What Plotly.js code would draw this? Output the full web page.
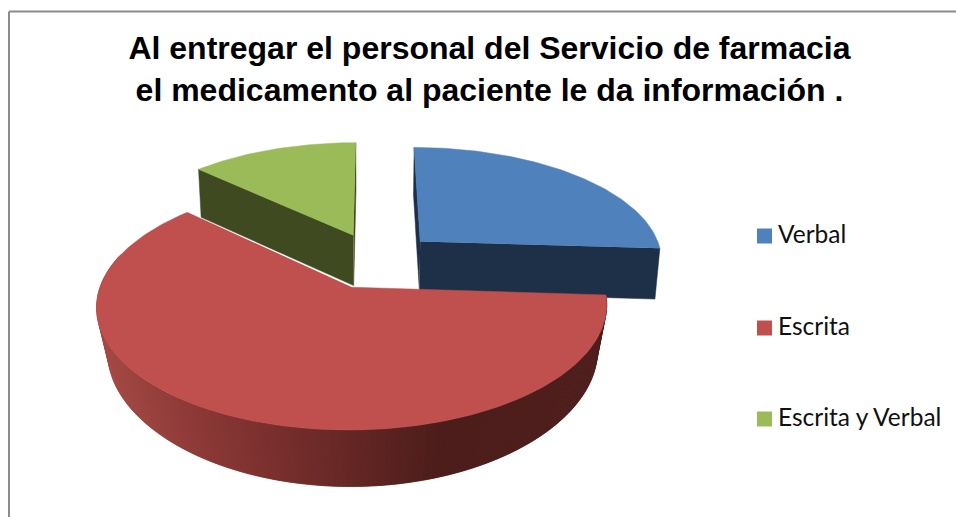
<!DOCTYPE html>
<html>
<head>
<meta charset="utf-8">
<script src="https://cdn.plot.ly/plotly-3.0.1.min.js"></script>
<style>html,body{margin:0;padding:0;background:#fff}</style>
</head>
<body>
<div id="chart" style="width:956px;height:517px"></div>
<script>
const categories = ["Verbal", "Escrita", "Escrita y Verbal"];
const shares = [26, 61, 13];
const topColors = ["#4f81bd", "#c0504d", "#9bbb59"];
const wallColors = ["#1d3048", "#4d1d1b", "#3f4a20"];
const titleText = "Al entregar el personal del Servicio de farmacia<br>el medicamento al paciente le da información .";

// red rim shading, left to right across the picture
const rimStopsX = [96, 200, 345, 445, 604];
const rimStopsRgb = [[165,74,69], [138,56,54], [103,39,37], [76,29,27], [79,31,30]];

// fake 3d camera, tuned by eye against the reference
const cam = {cx: 372, cy: 287, R: 252, a: 121, k: 0.152, h: 52};
const pull = 0.25;
const hub = [0.0205, 0.2274];

// where the hand made legend sits
const legendX = 764.5;
const legendTextX = 778;
const legendY = [237, 329, 420];

function project(X, Y, Z) {
    var s = 1 / (1 + cam.k * Y);
    var conv = Math.max(0.015, 0.034 - 0.05 * Y);
    return [
        cam.cx + cam.R * X * s * (1 - conv * Z),
        cam.cy - cam.a * Y * s + cam.h * Z * Math.sqrt(s)
    ];
}

function rimPoint(center, deg, Z) {
    var t = deg * Math.PI / 180;
    return project(center[0] + Math.sin(t), center[1] + Math.cos(t), Z);
}

function polyTrace(points, color) {
    return {
        x: points.map(p => p[0]),
        y: points.map(p => p[1]),
        type: "scatter",
        mode: "lines",
        fill: "toself",
        fillcolor: color,
        line: {color: color, width: 0.5},
        hoverinfo: "skip",
        showlegend: false
    };
}

function rimColor(x) {
    var i = 0;
    while (i < rimStopsX.length - 2 && x > rimStopsX[i + 1]) i++;
    var f = Math.min(1, Math.max(0, (x - rimStopsX[i]) / (rimStopsX[i + 1] - rimStopsX[i])));
    var c = rimStopsRgb[i].map((v, j) => Math.round(v + (rimStopsRgb[i + 1][j] - v) * f));
    return `rgb(${c[0]},${c[1]},${c[2]})`;
}

// work out each slice from its share
const total = shares.reduce((a, b) => a + b, 0);
var slices = [];
var angle = 0;
shares.forEach((v, i) => {
    var sweep = v / total * 360;
    var mid = (angle + sweep / 2) * Math.PI / 180;
    slices.push({
        start: angle,
        end: angle + sweep,
        center: [hub[0] + pull * Math.sin(mid), hub[1] + pull * Math.cos(mid)]
    });
    angle += sweep;
});

function sliceTop(i) {
    var sl = slices[i];
    var pts = [project(sl.center[0], sl.center[1], 0)];
    for (var d = sl.start; d < sl.end; d += 1) {
        pts.push(rimPoint(sl.center, d, 0));
    }
    pts.push(rimPoint(sl.center, sl.end, 0));
    return pts;
}

function radialWall(i, deg) {
    var sl = slices[i];
    return [
        project(sl.center[0], sl.center[1], 0),
        rimPoint(sl.center, deg, 0),
        rimPoint(sl.center, deg, 1),
        project(sl.center[0], sl.center[1], 1)
    ];
}

var traces = [];

// back slices first
traces.push(polyTrace(radialWall(2, slices[2].start), wallColors[2]));
traces.push(polyTrace(radialWall(2, slices[2].end), wallColors[2]));
traces.push(polyTrace(sliceTop(2), topColors[2]));

traces.push(polyTrace(radialWall(0, slices[0].start), wallColors[0]));
traces.push(polyTrace(radialWall(0, slices[0].end), wallColors[0]));
traces.push(polyTrace(sliceTop(0), topColors[0]));

// red rim in thin overlapping strips so the shading can change along it
var red = slices[1];
for (var d = red.start; d < 285; d += 1) {
    var a = rimPoint(red.center, d, 0);
    var b = rimPoint(red.center, d + 2, 0);
    var c = rimPoint(red.center, d + 2, 1);
    var e = rimPoint(red.center, d, 1);
    traces.push(polyTrace([a, b, c, e], rimColor(a[0])));
}
traces.push(polyTrace(sliceTop(1), topColors[1]));

// legend swatches and labels
traces.push({
    x: categories.map(() => legendX),
    y: legendY.map(v => v - 1),
    type: "scatter",
    mode: "markers",
    marker: {symbol: "square", size: 15, color: topColors},
    hoverinfo: "skip",
    showlegend: false
});
traces.push({
    x: categories.map(() => legendTextX),
    y: legendY,
    type: "scatter",
    mode: "text",
    text: categories,
    textposition: "middle right",
    textfont: {family: "Lato", size: 24.5, color: "#111111"},
    hoverinfo: "skip",
    showlegend: false
});

var layout = {
    width: 956,
    height: 517,
    margin: {l: 0, r: 0, t: 0, b: 0},
    paper_bgcolor: "#ffffff",
    plot_bgcolor: "#ffffff",
    showlegend: false,
    title: {
        text: titleText,
        x: 0.512,
        xanchor: "center",
        y: 0.885,
        yanchor: "bottom",
        font: {family: "Liberation Sans", size: 32, color: "#000000", weight: 700}
    },
    xaxis: {range: [0, 956], visible: false, fixedrange: true},
    yaxis: {range: [517, 0], visible: false, fixedrange: true},
    shapes: [
        {type: "line", xref: "paper", yref: "paper", x0: 9 / 956, x1: 9 / 956, y0: 0, y1: 1 - 11.5 / 517,
            line: {color: "#8c8c8c", width: 2}},
        {type: "line", xref: "paper", yref: "paper", x0: 9 / 956, x1: 1, y0: 1 - 11.5 / 517, y1: 1 - 11.5 / 517,
            line: {color: "#8c8c8c", width: 2}}
    ]
};

Plotly.newPlot("chart", traces, layout, {displayModeBar: false, staticPlot: true});
</script>
</body>
</html>
